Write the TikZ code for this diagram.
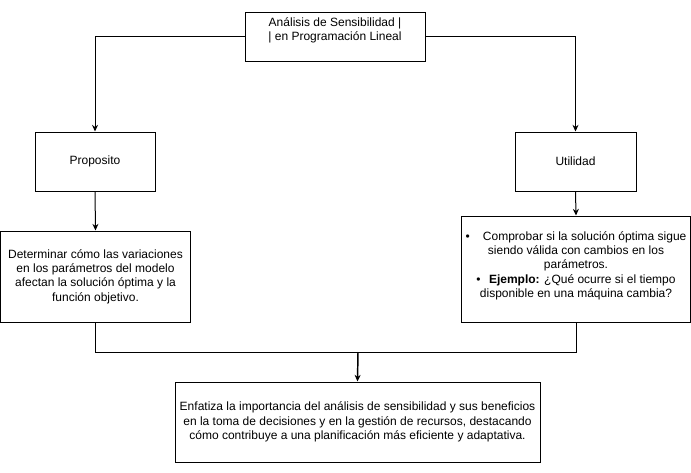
\documentclass[tikz,border=0pt]{standalone}
\usepackage{fontspec}
\setmainfont{Liberation Sans}
\usetikzlibrary{arrows.meta}
\tikzset{
    box/.style = {draw, line width = 0.75pt, align = center, inner sep = 0pt,
        font = \fontsize{9}{10.8}\selectfont},
    link/.style = {line width = 0.75pt, -{Stealth[length = 5pt, width = 4.5pt]}}
}
\begin{document}
\begin{tikzpicture}[x = 0.75pt, y = -0.75pt]
                \useasboundingbox (0,0) rectangle (691,472);
                \node[box, minimum width = 135pt, minimum height = 36.75pt] (titulo) at (335,36.5)
                    {Análisis de Sensibilidad |\\| en Programación Lineal\\\mbox{}};
                \node[box, minimum width = 90pt, minimum height = 44.25pt] (proposito) at (95,161.5) {Proposito};
                \node[box, minimum width = 90.75pt, minimum height = 44.25pt] (utilidad) at (575.5,161.5) {Utilidad};
                \node[box, minimum width = 142.5pt, minimum height = 68.25pt] (determinar) at (95.5,276.5)
                    {Determinar cómo las variaciones\\en los parámetros del modelo\\afectan la solución óptima y la\\función objetivo.};
                \node[box, minimum width = 171.75pt, minimum height = 79.5pt] (comprobar) at (576,269)
                    {\textbullet\hspace{1.1em}Comprobar si la solución óptima sigue\\siendo válida con cambios en los\\parámetros.\\\textbullet\hspace{0.7em}\textbf{Ejemplo:} ¿Qué ocurre si el tiempo\\disponible en una máquina cambia?\\[-4pt]\mbox{}};
                \node[box, minimum width = 273.75pt, minimum height = 60pt] (enfatiza) at (357.5,422)
                    {Enfatiza la importancia del análisis de sensibilidad y sus beneficios\\en la toma de decisiones y en la gestión de recursos, destacando\\cómo contribuye a una planificación más eficiente y adaptativa.};
                \coordinate (union) at (358,352);
                \begin{scope}[every path/.append style = link]
                    \draw (titulo.west) -| (proposito.north);
                    \draw (titulo.east) -| (utilidad.north);
                    \draw (proposito.south) -- (determinar.north);
                    \draw (utilidad.south) -- (comprobar.north);
                \end{scope}
                \draw[line width = 0.75pt] (determinar.south) |- (union) -| (comprobar.south);
                \draw[link, line width = 1.1pt] (union) -- (enfatiza.north);
            \end{tikzpicture}
\end{document}
